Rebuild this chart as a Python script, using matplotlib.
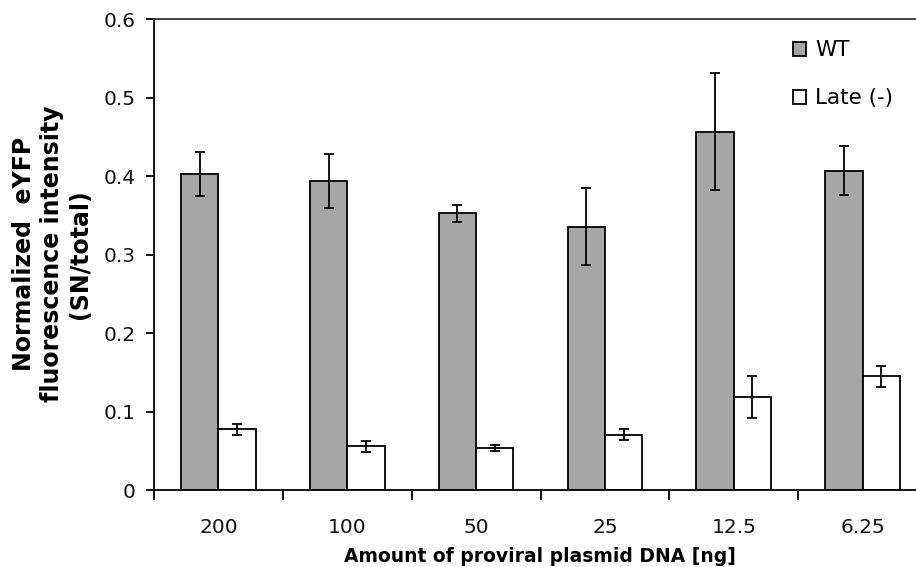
import matplotlib
matplotlib.use("Agg")
import matplotlib.pyplot as plt
import numpy as np

# amount of proviral plasmid DNA per transfection [ng]
doses = ["200", "100", "50", "25", "12.5", "6.25"]

# normalized eYFP fluorescence (SN/total), mean and error
wt_mean = [0.403, 0.394, 0.353, 0.336, 0.457, 0.407]
wt_err = [0.028, 0.034, 0.011, 0.049, 0.075, 0.031]
late_mean = [0.078, 0.056, 0.054, 0.071, 0.119, 0.145]
late_err = [0.007, 0.007, 0.004, 0.007, 0.027, 0.013]

yticks = [0, 0.1, 0.2, 0.3, 0.4, 0.5, 0.6]
ytick_labels = ["0", "0.1", "0.2", "0.3", "0.4", "0.5", "0.6"]

plt.rcParams['font.family'] = ['DejaVu Sans']

fig = plt.figure(figsize=(9.16, 5.67), dpi=100)
W, H = 916, 567
ax = fig.add_axes([154 / W, (H - 490.3) / H, (927 - 154) / W, (490.3 - 19.3) / H])

x = np.arange(len(doses))
w = 0.29
err_kw = dict(ecolor="black", elinewidth=1.3, capsize=3.8, capthick=1.3)
ax.bar(x - w / 2, wt_mean, w, yerr=wt_err, color="#a6a6a6", edgecolor="black",
       linewidth=1.3, error_kw=err_kw, label="WT")
ax.bar(x + w / 2, late_mean, w, yerr=late_err, color="white", edgecolor="black",
       linewidth=1.3, error_kw=err_kw, label="Late (-)")

ax.set_xlim(-0.5, len(doses) - 0.5)
ax.set_ylim(0, 0.6)
ax.set_yticks(yticks)
ax.set_yticklabels(ytick_labels)
ax.set_xticks(x)
ax.set_xticklabels(doses)
ax.set_xticks(np.arange(len(doses) + 1) - 0.5, minor=True)

ax.tick_params(axis="y", direction="out", length=6, width=1.3, pad=7, labelsize=14.5,
               labelcolor="#111111")
ax.tick_params(axis="x", which="major", length=0, pad=20, labelsize=14.5,
               labelcolor="#111111")
ax.tick_params(axis="x", which="minor", direction="out", length=7, width=1.3)

for s in ax.spines.values():
    s.set_linewidth(1.3)
ax.spines["right"].set_visible(False)
ax.spines["top"].set_color("#333333")

fig.text(540 / W, 1 - 556 / H, "Amount of proviral plasmid DNA [ng]",
         ha="center", va="center", fontsize=13.5, fontweight="bold")
fig.text(52 / W, 1 - 254 / H, "Normalized  eYFP\nfluorescence intensity\n(SN/total)",
         ha="center", va="center", rotation=90, fontsize=17, fontweight="bold",
         linespacing=1.22, multialignment="center")

ax.legend(loc="upper left", bbox_to_anchor=(0.827, 0.955), frameon=False,
          fontsize=15.5, handlelength=0.6, handleheight=0.6, handletextpad=0.4,
          labelspacing=1.3, borderaxespad=0, borderpad=0)

fig.savefig("out.png", dpi=100)
